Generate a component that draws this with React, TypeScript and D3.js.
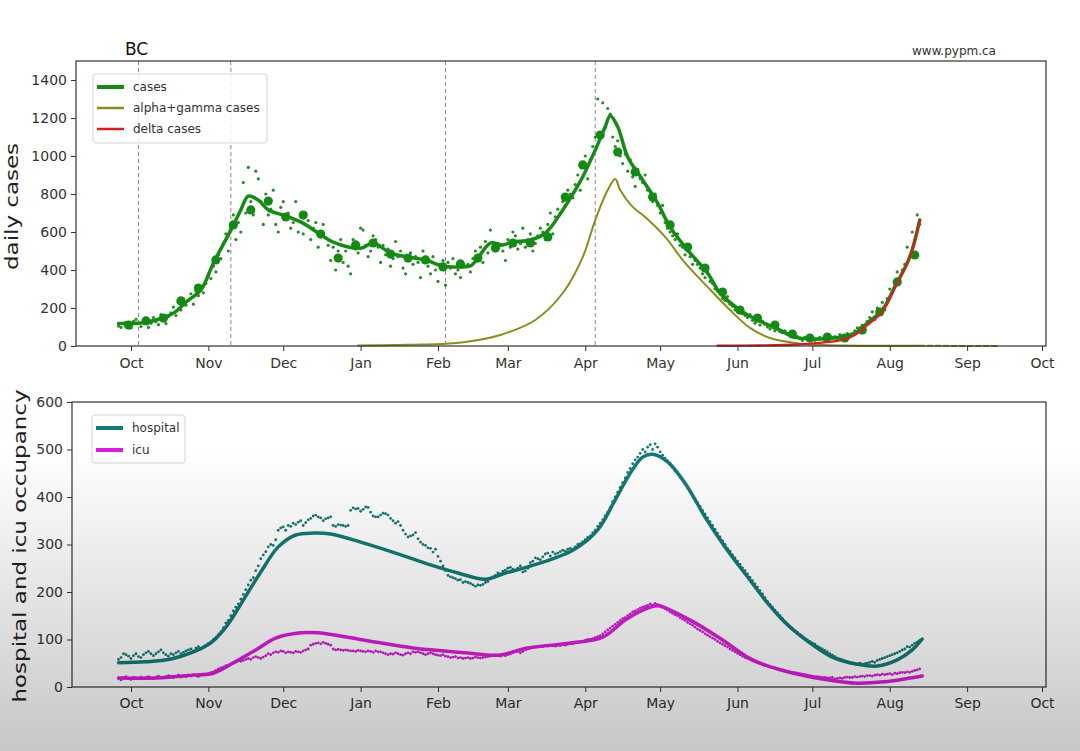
import { useEffect, useRef } from "react";
import * as d3 from "d3";

// values
const monthTicks = [
  "2020-10-01", "2020-11-01", "2020-12-01", "2021-01-01", "2021-02-01", "2021-03-01", "2021-04-01",
  "2021-05-01", "2021-06-01", "2021-07-01", "2021-08-01", "2021-09-01", "2021-10-01",
];
const caseTicks = [0, 200, 400, 600, 800, 1000, 1200, 1400];
const occTicks = [0, 100, 200, 300, 400, 500, 600];
const changeDates = ["2020-10-04", "2020-11-10", "2021-02-04", "2021-04-05"];

const casesCurve: [string, number][] = [
  ["2020-09-26", 118], ["2020-10-05", 121], ["2020-10-11", 137], ["2020-10-18", 173], ["2020-10-23", 231],
  ["2020-10-29", 295], ["2020-11-03", 436], ["2020-11-10", 610], ["2020-11-14", 716], ["2020-11-17", 789],
  ["2020-11-21", 768], ["2020-11-25", 716], ["2020-12-01", 689], ["2020-12-08", 653], ["2020-12-15", 595],
  ["2020-12-21", 547], ["2021-01-01", 515], ["2021-01-06", 542], ["2021-01-13", 489], ["2021-01-20", 468],
  ["2021-01-27", 453], ["2021-02-03", 421], ["2021-02-10", 416], ["2021-02-14", 421], ["2021-02-17", 463],
  ["2021-02-22", 542], ["2021-02-27", 532], ["2021-03-03", 547], ["2021-03-10", 558], ["2021-03-16", 594],
  ["2021-03-23", 716], ["2021-03-28", 821], ["2021-03-31", 891], ["2021-04-05", 1031], ["2021-04-09", 1154],
  ["2021-04-11", 1212], ["2021-04-14", 1154], ["2021-04-18", 995], ["2021-04-24", 874], ["2021-04-30", 752],
  ["2021-05-05", 626], ["2021-05-12", 505], ["2021-05-20", 384], ["2021-05-25", 279], ["2021-06-02", 189],
  ["2021-06-09", 137], ["2021-06-18", 84], ["2021-06-24", 47], ["2021-07-02", 37], ["2021-07-10", 42],
  ["2021-07-18", 68], ["2021-07-23", 121], ["2021-07-29", 189], ["2021-08-03", 311], ["2021-08-09", 468],
  ["2021-08-13", 663],
];

const alphaCurve: [string, number][] = [
  ["2020-12-31", 2], ["2021-01-15", 5], ["2021-02-04", 12], ["2021-02-14", 25], ["2021-02-26", 58],
  ["2021-03-12", 137], ["2021-03-23", 279], ["2021-03-31", 468], ["2021-04-05", 663], ["2021-04-10", 821],
  ["2021-04-13", 879], ["2021-04-15", 821], ["2021-04-20", 732], ["2021-04-25", 679], ["2021-05-03", 574],
  ["2021-05-11", 437], ["2021-05-20", 311], ["2021-05-29", 189], ["2021-06-06", 95], ["2021-06-14", 42],
  ["2021-06-24", 16], ["2021-07-05", 5], ["2021-08-13", 1],
];
const alphaProjection: [string, number][] = [["2021-08-13", 1], ["2021-09-14", 0]];

const deltaCurve: [string, number][] = [
  ["2021-05-24", 1], ["2021-06-10", 3], ["2021-06-25", 8], ["2021-07-05", 18], ["2021-07-13", 32],
  ["2021-07-18", 58], ["2021-07-23", 110], ["2021-07-29", 180], ["2021-08-03", 305], ["2021-08-09", 465],
  ["2021-08-13", 663],
];

// weekly averages, one every 7 days from weeklyStart
const weeklyStart = "2020-09-30";
const weeklyCases = [
  110, 132, 147, 237, 305, 453, 637, 716, 763, 679, 689, 589, 463, 532, 542, 484,
  463, 453, 416, 432, 463, 516, 542, 542, 574, 784, 953, 1110, 1021, 916, 784, 637,
  521, 410, 284, 189, 147, 110, 63, 42, 47, 42, 84, 179, 337, 479,
];

// daily values, one per day from dailyStart
const dailyStart = "2020-09-26";
const dailyCases = [
  105, 98, 120, 125, 110, 95, 130,
  140, 118, 102, 125, 135, 98, 120,
  150, 128, 112, 165, 140, 118, 155,
  175, 205, 160, 230, 190, 250, 215,
  240, 275, 220, 290, 265, 310, 280,
  330, 370, 355, 420, 390, 480, 460,
  540, 590, 500, 620, 690, 560, 650,
  600, 860, 700, 940, 760, 690, 920,
  880, 760, 640, 800, 690, 720, 820,
  640, 600, 730, 760, 680, 700, 620,
  650, 760, 600, 680, 590, 700, 660,
  560, 620, 650, 520, 600, 640, 570,
  530, 450, 520, 400, 500, 560, 440,
  500, 420, 380, 560, 510, 490, 620,
  610, 530, 470, 500, 580, 560, 520,
  440, 530, 480, 510, 420, 460, 550,
  470, 500, 410, 380, 460, 490, 430,
  470, 440, 360, 500, 450, 420, 380,
  470, 400, 340, 430, 450, 320, 440,
  410, 460, 380, 400, 360, 430, 420,
  430, 390, 460, 500, 470, 520, 440,
  550, 490, 610, 520, 500, 540, 530,
  500, 450, 560, 520, 600, 580, 510,
  540, 620, 520, 560, 590, 500, 540,
  580, 620, 600, 560, 640, 700, 590,
  680, 720, 700, 760, 740, 820, 800,
  780, 850, 900, 820, 940, 1000, 880,
  980, 1050, 1100, 1300, 1120, 1280, 1150,
  1250, 1220, 1100, 1050, 1080, 1000, 960,
  1010, 920, 980, 890, 840, 930, 880,
  860, 900, 820, 780, 760, 800, 740,
  700, 740, 650, 620, 600, 580, 560,
  590, 530, 520, 480, 500, 470, 430,
  450, 430, 410, 380, 360, 390, 340,
  330, 300, 290, 280, 250, 240, 260,
  220, 210, 190, 180, 200, 170, 160,
  150, 165, 135, 120, 140, 110, 130,
  115, 100, 90, 110, 80, 95, 75,
  70, 80, 60, 55, 65, 45, 50,
  40, 30, 45, 35, 50, 40, 30,
  35, 45, 40, 30, 50, 38, 44,
  50, 40, 60, 55, 45, 65, 50,
  60, 80, 95, 75, 110, 100, 130,
  150, 180, 140, 200, 170, 230, 190,
  250, 300, 280, 330, 390, 350, 400,
  430, 520, 470, 600, 560, 690, 640,
];

const hospitalCurve: [string, number][] = [
  ["2020-09-26", 51], ["2020-10-07", 53], ["2020-10-17", 59], ["2020-10-26", 74], ["2020-11-02", 93],
  ["2020-11-08", 126], ["2020-11-15", 183], ["2020-11-22", 242], ["2020-11-29", 295], ["2020-12-06", 320],
  ["2020-12-13", 324], ["2020-12-20", 322], ["2021-01-01", 305], ["2021-01-15", 282], ["2021-01-29", 257],
  ["2021-02-09", 240], ["2021-02-20", 227], ["2021-02-28", 240], ["2021-03-09", 253], ["2021-03-27", 288],
  ["2021-04-06", 331], ["2021-04-13", 394], ["2021-04-19", 450], ["2021-04-24", 484], ["2021-04-28", 490],
  ["2021-05-04", 474], ["2021-05-11", 429], ["2021-05-19", 358], ["2021-05-27", 295], ["2021-06-05", 232],
  ["2021-06-13", 177], ["2021-06-21", 131], ["2021-06-30", 93], ["2021-07-09", 63], ["2021-07-19", 48],
  ["2021-07-27", 44], ["2021-08-04", 57], ["2021-08-10", 78], ["2021-08-14", 101],
];

const icuCurve: [string, number][] = [
  ["2020-09-26", 19], ["2020-10-11", 19], ["2020-10-26", 25], ["2020-11-03", 29], ["2020-11-11", 51],
  ["2020-11-20", 78], ["2020-11-28", 103], ["2020-12-08", 114], ["2020-12-15", 114], ["2021-01-02", 99],
  ["2021-01-22", 82], ["2021-02-12", 72], ["2021-02-25", 67], ["2021-03-09", 82], ["2021-03-27", 93],
  ["2021-04-08", 105], ["2021-04-17", 141], ["2021-04-24", 162], ["2021-04-30", 171], ["2021-05-05", 162],
  ["2021-05-15", 135], ["2021-05-26", 99], ["2021-06-07", 57], ["2021-06-21", 32], ["2021-07-05", 17],
  ["2021-07-19", 8], ["2021-07-30", 11], ["2021-08-07", 17], ["2021-08-14", 23],
];

const dailyHospital = [
  58, 62, 70, 68, 65, 60, 66,
  70, 64, 62, 68, 72, 75, 70,
  66, 70, 74, 78, 72, 68, 65,
  70, 68, 72, 75, 70, 73, 76,
  78, 80, 76, 82, 85, 80, 84,
  88, 92, 95, 100, 104, 110, 116,
  125, 135, 140, 150, 160, 168, 175,
  185, 195, 205, 215, 225, 230, 245,
  255, 270, 278, 285, 295, 300, 298,
  310, 330, 335, 337, 330, 340, 338,
  345, 342, 347, 350, 340, 346, 352,
  355, 360, 362, 358, 356, 350, 354,
  356, 358, 340, 338, 342, 341, 340,
  338, 340, 372, 377, 375, 376, 370,
  374, 379, 378, 368, 360, 358, 358,
  362, 366, 365, 362, 355, 350, 345,
  348, 340, 330, 322, 316, 318, 320,
  325, 312, 305, 300, 298, 293, 292,
  284, 290, 275, 265, 255, 245, 235,
  232, 230, 228, 225, 226, 220, 222,
  220, 218, 215, 212, 215, 214, 216,
  220, 222, 229, 232, 235, 240, 238,
  244, 246, 250, 252, 248, 245, 250,
  255, 242, 244, 250, 262, 265, 272,
  270, 268, 274, 280, 282, 276, 284,
  280, 282, 285, 288, 286, 290, 292,
  290, 295, 300, 302, 306, 310, 315,
  318, 325, 330, 338, 345, 352, 360,
  368, 378, 390, 400, 410, 420, 430,
  440, 452, 460, 470, 478, 484, 492,
  500, 495, 505, 510, 500, 512, 505,
  495, 488, 482, 476, 470, 462, 455,
  450, 442, 436, 428, 420, 412, 404,
  396, 388, 380, 372, 364, 356, 348,
  340, 332, 324, 316, 308, 300, 292,
  286, 278, 272, 265, 258, 251, 245,
  238, 231, 224, 217, 210, 203, 196,
  188, 180, 174, 168, 162, 156, 150,
  144, 138, 133, 128, 124, 119, 115,
  111, 107, 103, 99, 96, 93, 90,
  86, 83, 80, 77, 74, 70, 67,
  64, 61, 59, 57, 55, 53, 51,
  50, 49, 48, 50, 48, 49, 50,
  52, 54, 52, 56, 58, 60, 62,
  64, 66, 68, 70, 72, 75, 78,
  80, 85, 84, 88, 92, 95, 98,
];

const dailyIcu = [
  18, 15, 20, 22, 18, 16, 20,
  19, 17, 21, 18, 20, 22, 19,
  18, 21, 23, 20, 19, 22, 24,
  22, 20, 23, 25, 21, 24, 22,
  25, 23, 26, 24, 22, 25, 27,
  26, 28, 30, 32, 35, 38, 40,
  42, 45, 44, 48, 50, 52, 55,
  54, 56, 58, 60, 58, 62, 64,
  62, 60, 63, 66, 70, 68, 72,
  74, 73, 76, 75, 72, 74, 73,
  72, 75, 74, 73, 76, 78, 80,
  88, 90, 92, 93, 91, 94, 92,
  90, 88, 80, 78, 79, 78, 77,
  78, 77, 76, 76, 75, 77, 76,
  75, 74, 76, 75, 73, 76, 74,
  74, 72, 70, 68, 70, 69, 72,
  70, 68, 67, 70, 72, 70, 74,
  73, 74, 72, 70, 68, 70, 72,
  70, 68, 67, 66, 68, 65, 64,
  62, 63, 64, 61, 62, 60, 61,
  62, 60, 61, 63, 62, 61, 62,
  63, 64, 65, 66, 67, 66, 65,
  67, 66, 68, 70, 72, 74, 75,
  72, 75, 78, 80, 82, 83, 84,
  84, 86, 85, 87, 86, 88, 87,
  86, 88, 87, 89, 88, 90, 92,
  91, 93, 94, 95, 96, 98, 100,
  100, 102, 104, 106, 108, 112, 116,
  120, 124, 128, 132, 136, 140, 144,
  146, 150, 154, 158, 160, 163, 166,
  168, 170, 172, 175, 173, 176, 174,
  172, 168, 165, 162, 158, 155, 152,
  150, 146, 143, 140, 136, 133, 130,
  126, 122, 119, 116, 112, 109, 106,
  103, 100, 96, 93, 90, 87, 84,
  80, 77, 74, 71, 68, 65, 62,
  60, 58, 55, 53, 51, 49, 47,
  45, 44, 42, 41, 40, 38, 37,
  36, 34, 33, 32, 31, 30, 29,
  28, 27, 26, 25, 24, 23, 22,
  22, 21, 20, 20, 19, 19, 20,
  17, 18, 19, 18, 20, 21, 20,
  20, 22, 21, 22, 23, 22, 24,
  24, 23, 25, 26, 25, 27, 26,
  27, 28, 26, 29, 28, 30, 31,
  30, 32, 31, 33, 35, 36, 38,
];

const W = 1080;
const H = 751;
const FONT = "DejaVu Sans, sans-serif";
const parse = d3.timeParse("%Y-%m-%d");

const App = () => {
  const svgRef = useRef<SVGSVGElement>(null);

  useEffect(() => {
    document.body.style.margin = "0";
    const svg = d3.select(svgRef.current);
    svg.selectAll("*").remove();

    svg.append("rect").attr("width", W).attr("height", H).attr("fill", "#fff");

    // time scale shared by both panels
    const x = d3
      .scaleTime()
      .domain([parse("2020-10-01")!, parse("2021-10-01")!])
      .range([131, 1042]);

    const top = { left: 76, right: 1046, top: 61, bottom: 346 };
    const bot = { left: 72, right: 1046, top: 402, bottom: 687 };

    const yCases = d3.scaleLinear().domain([0, 1500]).range([top.bottom, top.top]);
    const yOcc = d3.scaleLinear().domain([0, 600]).range([bot.bottom, bot.top]);

    const toPts = (arr: [string, number][]) => arr.map(([d, v]) => [parse(d)!, v] as [Date, number]);
    const daily = (start: string, vals: number[], step = 1) =>
      vals.map((v, i) => [d3.timeDay.offset(parse(start)!, i * step), v] as [Date, number]);

    const axes = (p: typeof top, y: d3.ScaleLinear<number, number>, ticks: number[], pad: number) => {
      const gx = svg
        .append("g")
        .attr("transform", `translate(0,${p.bottom})`)
        .call(
          d3
            .axisBottom(x)
            .tickValues(monthTicks.map((d) => parse(d)!))
            .tickFormat(d3.timeFormat("%b") as any)
            .tickSize(5)
            .tickPadding(pad)
        );
      const gy = svg
        .append("g")
        .attr("transform", `translate(${p.left},0)`)
        .call(d3.axisLeft(y).tickValues(ticks).tickFormat(d3.format("d")).tickSize(5).tickPadding(4));
      [gx, gy].forEach((g) => {
        g.select(".domain").remove();
        g.selectAll("line").attr("stroke", "#333");
        g.selectAll("text").attr("fill", "#333").style("font-family", FONT).style("font-size", "14px");
      });
      svg
        .append("rect")
        .attr("x", p.left)
        .attr("y", p.top)
        .attr("width", p.right - p.left)
        .attr("height", p.bottom - p.top)
        .attr("fill", "none")
        .attr("stroke", "#333")
        .attr("stroke-width", 1.2);
    };

    const line = (y: d3.ScaleLinear<number, number>) =>
      d3
        .line<[Date, number]>()
        .x((d) => x(d[0]))
        .y((d) => y(d[1]))
        .curve(d3.curveCatmullRom.alpha(0.5));

    const dots = (pts: [Date, number][], y: d3.ScaleLinear<number, number>, r: number, color: string) =>
      svg
        .append("g")
        .selectAll("circle")
        .data(pts)
        .join("circle")
        .attr("cx", (d) => x(d[0]))
        .attr("cy", (d) => y(d[1]))
        .attr("r", r)
        .attr("fill", color);

    const path = (pts: [Date, number][], y: d3.ScaleLinear<number, number>, color: string, w: number, dash?: string) =>
      svg
        .append("path")
        .datum(pts)
        .attr("d", line(y))
        .attr("fill", "none")
        .attr("stroke", color)
        .attr("stroke-width", w)
        .attr("stroke-dasharray", dash ?? null)
        .attr("stroke-linecap", "round");

    // ---------- top panel: daily cases ----------
    changeDates.forEach((d) => {
      svg
        .append("line")
        .attr("x1", x(parse(d)!))
        .attr("x2", x(parse(d)!))
        .attr("y1", top.top)
        .attr("y2", top.bottom)
        .attr("stroke", "#8a8a8a")
        .attr("stroke-width", 1)
        .attr("stroke-dasharray", "4,3");
    });

    dots(daily(dailyStart, dailyCases), yCases, 1.6, "#2a8a2a");
    path(toPts(casesCurve), yCases, "#148c14", 3.5);
    dots(daily(weeklyStart, weeklyCases, 7), yCases, 4.6, "#138a13");
    path(toPts(alphaCurve), yCases, "#8c8c1c", 2);
    path(toPts(alphaProjection), yCases, "#8c8c1c", 2, "5,3");
    path(toPts(deltaCurve), yCases, "#d42020", 2.4);

    axes(top, yCases, caseTicks, 7);

    // legend
    const legend = (lx: number, ly: number, w: number, h: number, items: [string, string, number, number][]) => {
      svg
        .append("rect")
        .attr("x", lx)
        .attr("y", ly)
        .attr("width", w)
        .attr("height", h)
        .attr("rx", 3)
        .attr("fill", "#fff")
        .attr("fill-opacity", 0.85)
        .attr("stroke", "#d4d4d4");
      items.forEach(([label, color, lw, cy]) => {
        svg
          .append("line")
          .attr("x1", lx + 4)
          .attr("x2", lx + 31)
          .attr("y1", cy)
          .attr("y2", cy)
          .attr("stroke", color)
          .attr("stroke-width", lw);
        svg
          .append("text")
          .attr("x", lx + 40)
          .attr("y", cy)
          .attr("dy", "0.35em")
          .attr("fill", "#333")
          .style("font-family", FONT)
          .style("font-size", "12px")
          .text(label);
      });
    };

    legend(93, 74, 174, 69, [
      ["cases", "#148c14", 4, 87],
      ["alpha+gamma cases", "#8c8c1c", 2.5, 108],
      ["delta cases", "#d42020", 2.5, 129],
    ]);

    svg
      .append("text")
      .attr("x", 125)
      .attr("y", 55)
      .attr("fill", "#111")
      .style("font-family", FONT)
      .style("font-size", "17px")
      .text("BC");
    svg
      .append("text")
      .attr("x", 912)
      .attr("y", 55)
      .attr("fill", "#333")
      .style("font-family", FONT)
      .style("font-size", "12px")
      .text("www.pypm.ca");

    svg
      .append("text")
      .attr("transform", `translate(18,${(top.top + top.bottom) / 2 + 3}) rotate(-90)`)
      .attr("text-anchor", "middle")
      .attr("textLength", 127)
      .attr("lengthAdjust", "spacingAndGlyphs")
      .attr("fill", "#222")
      .style("font-family", FONT)
      .style("font-size", "17px")
      .text("daily cases");

    // ---------- bottom panel: hospital and icu ----------
    dots(daily(dailyStart, dailyHospital), yOcc, 1.4, "#157a74");
    dots(daily(dailyStart, dailyIcu), yOcc, 1.4, "#cc22cc");
    path(toPts(hospitalCurve), yOcc, "#137a75", 3.5);
    path(toPts(icuCurve), yOcc, "#d81ed8", 3.5);

    axes(bot, yOcc, occTicks, 6);

    legend(92, 415, 93, 48, [
      ["hospital", "#137a75", 4, 428],
      ["icu", "#d81ed8", 4, 450],
    ]);

    svg
      .append("text")
      .attr("transform", `translate(26,${546}) rotate(-90)`)
      .attr("text-anchor", "middle")
      .attr("textLength", 313)
      .attr("lengthAdjust", "spacingAndGlyphs")
      .attr("fill", "#222")
      .style("font-family", FONT)
      .style("font-size", "17px")
      .text("hospital and icu occupancy");

    // the grey shading of the screen capture, darker towards the bottom
    const grad = svg
      .append("defs")
      .append("linearGradient")
      .attr("id", "shade")
      .attr("x1", 0)
      .attr("y1", 0)
      .attr("x2", 0)
      .attr("y2", 1);
    grad.append("stop").attr("offset", 0.6).attr("stop-color", "#000").attr("stop-opacity", 0);
    grad.append("stop").attr("offset", 1).attr("stop-color", "#000").attr("stop-opacity", 0.22);
    svg
      .append("rect")
      .attr("width", W)
      .attr("height", H)
      .attr("fill", "url(#shade)")
      .style("pointer-events", "none");
  }, []);

  return <svg ref={svgRef} width={W} height={H} style={{ display: "block" }} />;
};

export default App;
